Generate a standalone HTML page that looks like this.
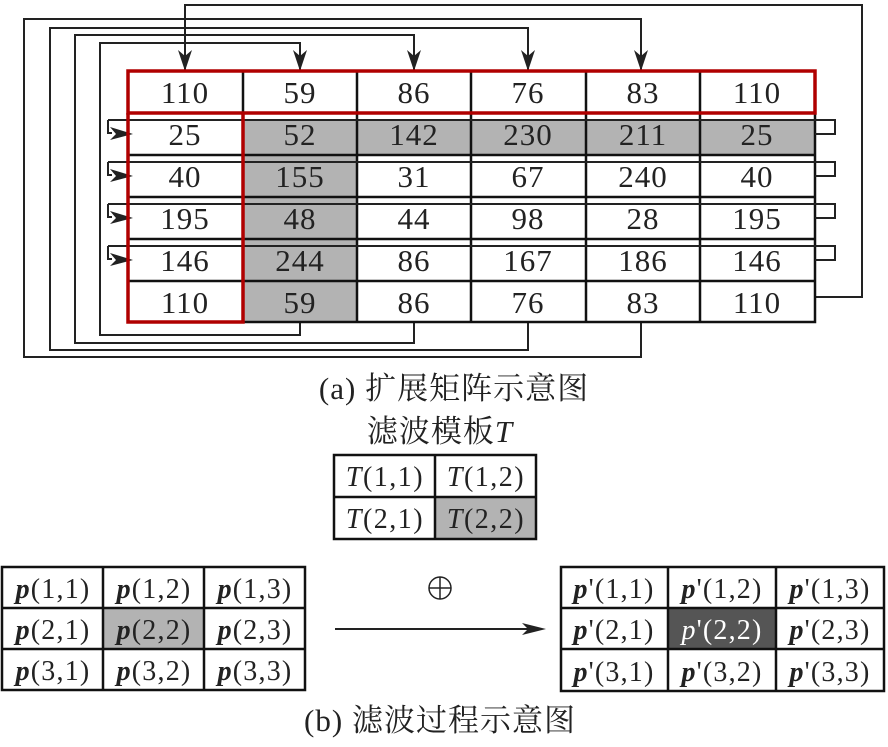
<!DOCTYPE html>
<html><head><meta charset="utf-8"><style>
html,body{margin:0;padding:0;background:#fff}
svg text{font-family:"Liberation Serif","Noto Serif CJK SC",serif;fill:#222}
</style></head><body>
<svg width="888" height="742" viewBox="0 0 888 742" xmlns="http://www.w3.org/2000/svg">
<g fill="none" stroke="#222" stroke-width="2">
<path d="M185,70 L185,5 L862,5 L862,297 L815,297"/>
<path d="M641,323 L641,357 L24,357 L24,19 L641,19 L641,70"/>
<path d="M528,323 L528,350 L50,350 L50,28 L528,28 L528,70"/>
<path d="M414,323 L414,343 L75,343 L75,35 L414,35 L414,70"/>
<path d="M300,323 L300,335 L100,335 L100,43 L300,43 L300,70"/>
</g>
<g fill="#222">
<path d="M178,50 L185,71 L192,50 L185,56Z"/><path d="M293,50 L300,71 L307,50 L300,56Z"/><path d="M407,50 L414,71 L421,50 L414,56Z"/><path d="M521,50 L528,71 L535,50 L528,56Z"/><path d="M634,50 L641,71 L648,50 L641,56Z"/>
</g>
<rect x="243" y="120" width="572" height="34" fill="#b3b3b3"/>
<rect x="243" y="154" width="114" height="168" fill="#b3b3b3"/>
<g fill="none" stroke="#111" stroke-width="2.5">
<rect x="128" y="71" width="687" height="251"/>
<line x1="128" y1="113" x2="815" y2="113"/>
<line x1="128" y1="155" x2="815" y2="155"/>
<line x1="128" y1="197" x2="815" y2="197"/>
<line x1="128" y1="239" x2="815" y2="239"/>
<line x1="128" y1="281" x2="815" y2="281"/>
<line x1="243" y1="71" x2="243" y2="322"/><line x1="357" y1="71" x2="357" y2="322"/><line x1="471" y1="71" x2="471" y2="322"/><line x1="586" y1="71" x2="586" y2="322"/><line x1="700" y1="71" x2="700" y2="322"/>
</g>
<g fill="none" stroke="#222" stroke-width="2">
<path d="M108,120 L835,120 L835,134 L815,134"/><path d="M108,120 L108,133 L112,133"/>
<path d="M108,162 L835,162 L835,176 L815,176"/><path d="M108,162 L108,175 L112,175"/>
<path d="M108,204 L835,204 L835,218 L815,218"/><path d="M108,204 L108,217 L112,217"/>
<path d="M108,246 L835,246 L835,260 L815,260"/><path d="M108,246 L108,259 L112,259"/>
</g>
<g fill="#222">
<path d="M110,127 L133,134 L110,140 L116,134Z"/>
<path d="M110,169 L133,176 L110,182 L116,176Z"/>
<path d="M110,211 L133,218 L110,224 L116,218Z"/>
<path d="M110,253 L133,260 L110,266 L116,260Z"/>
</g>
<g fill="none" stroke="#b00000" stroke-width="3.5">
<rect x="128" y="71" width="687" height="42"/>
<path d="M128,113 L128,322 L243,322 L243,113"/>
</g>
<g font-size="31" text-anchor="middle" letter-spacing="1">
<text x="185" y="103">110</text><text x="300" y="103">59</text><text x="414" y="103">86</text><text x="528" y="103">76</text><text x="643" y="103">83</text><text x="757" y="103">110</text>
<text x="185" y="145">25</text><text x="300" y="145">52</text><text x="414" y="145">142</text><text x="528" y="145">230</text><text x="643" y="145">211</text><text x="757" y="145">25</text>
<text x="185" y="187">40</text><text x="300" y="187">155</text><text x="414" y="187">31</text><text x="528" y="187">67</text><text x="643" y="187">240</text><text x="757" y="187">40</text>
<text x="185" y="229">195</text><text x="300" y="229">48</text><text x="414" y="229">44</text><text x="528" y="229">98</text><text x="643" y="229">28</text><text x="757" y="229">195</text>
<text x="185" y="271">146</text><text x="300" y="271">244</text><text x="414" y="271">86</text><text x="528" y="271">167</text><text x="643" y="271">186</text><text x="757" y="271">146</text>
<text x="185" y="313">110</text><text x="300" y="313">59</text><text x="414" y="313">86</text><text x="528" y="313">76</text><text x="643" y="313">83</text><text x="757" y="313">110</text>
</g>
<text x="454" y="399" font-size="31" text-anchor="middle" letter-spacing="1">(a) 扩展矩阵示意图</text>
<text x="440" y="442" font-size="31" text-anchor="middle" letter-spacing="1">滤波模板<tspan font-style="italic">T</tspan></text>
<rect x="435" y="497" width="101" height="42" fill="#b3b3b3"/>
<g fill="none" stroke="#111" stroke-width="2.5"><rect x="334" y="455" width="202" height="84"/><line x1="334" y1="497" x2="536" y2="497"/><line x1="435" y1="455" x2="435" y2="539"/></g>
<g font-size="28" text-anchor="middle" letter-spacing="1.5">
<text x="385" y="486"><tspan font-style="italic">T</tspan>(1,1)</text><text x="486" y="486"><tspan font-style="italic">T</tspan>(1,2)</text>
<text x="385" y="528"><tspan font-style="italic">T</tspan>(2,1)</text><text x="486" y="528"><tspan font-style="italic">T</tspan>(2,2)</text>
</g>
<rect x="103" y="608" width="101" height="41" fill="#b3b3b3"/>
<g fill="none" stroke="#111" stroke-width="2.5"><rect x="2" y="567" width="303" height="123"/><line x1="2" y1="608" x2="305" y2="608"/><line x1="2" y1="649" x2="305" y2="649"/><line x1="103" y1="567" x2="103" y2="690"/><line x1="204" y1="567" x2="204" y2="690"/></g>
<g font-size="28" text-anchor="middle" letter-spacing="1.2">
<text x="53" y="598"><tspan font-weight="bold" font-style="italic">p</tspan>(1,1)</text><text x="154" y="598"><tspan font-weight="bold" font-style="italic">p</tspan>(1,2)</text><text x="255" y="598"><tspan font-weight="bold" font-style="italic">p</tspan>(1,3)</text>
<text x="53" y="639"><tspan font-weight="bold" font-style="italic">p</tspan>(2,1)</text><text x="154" y="639"><tspan font-weight="bold" font-style="italic">p</tspan>(2,2)</text><text x="255" y="639"><tspan font-weight="bold" font-style="italic">p</tspan>(2,3)</text>
<text x="53" y="680"><tspan font-weight="bold" font-style="italic">p</tspan>(3,1)</text><text x="154" y="680"><tspan font-weight="bold" font-style="italic">p</tspan>(3,2)</text><text x="255" y="680"><tspan font-weight="bold" font-style="italic">p</tspan>(3,3)</text>
</g>
<line x1="335" y1="629" x2="530" y2="629" stroke="#222" stroke-width="2"/>
<path d="M522,623 L546,629 L522,635 L528,629Z" fill="#222"/>
<circle cx="440" cy="588" r="11" fill="none" stroke="#222" stroke-width="1.5"/>
<line x1="429" y1="588" x2="451" y2="588" stroke="#222" stroke-width="1.5"/><line x1="440" y1="577" x2="440" y2="599" stroke="#222" stroke-width="1.5"/>
<rect x="668" y="608" width="108" height="41" fill="#555"/>
<g fill="none" stroke="#111" stroke-width="2.5"><rect x="561" y="567" width="323" height="124"/><line x1="561" y1="608" x2="884" y2="608"/><line x1="561" y1="649" x2="884" y2="649"/><line x1="668" y1="567" x2="668" y2="691"/><line x1="776" y1="567" x2="776" y2="691"/></g>
<g font-size="28" text-anchor="middle" letter-spacing="1.2">
<text x="614" y="598"><tspan font-weight="bold" font-style="italic">p</tspan>'(1,1)</text><text x="722" y="598"><tspan font-weight="bold" font-style="italic">p</tspan>'(1,2)</text><text x="830" y="598"><tspan font-weight="bold" font-style="italic">p</tspan>'(1,3)</text>
<text x="614" y="639"><tspan font-weight="bold" font-style="italic">p</tspan>'(2,1)</text><text x="722" y="639" style="fill:#fff"><tspan font-style="italic" style="fill:#fff">p</tspan>'(2,2)</text><text x="830" y="639"><tspan font-weight="bold" font-style="italic">p</tspan>'(2,3)</text>
<text x="614" y="681"><tspan font-weight="bold" font-style="italic">p</tspan>'(3,1)</text><text x="722" y="681"><tspan font-weight="bold" font-style="italic">p</tspan>'(3,2)</text><text x="830" y="681"><tspan font-weight="bold" font-style="italic">p</tspan>'(3,3)</text>
</g>
<text x="440" y="731" font-size="31" text-anchor="middle" letter-spacing="1">(b) 滤波过程示意图</text>
</svg>
</body></html>
